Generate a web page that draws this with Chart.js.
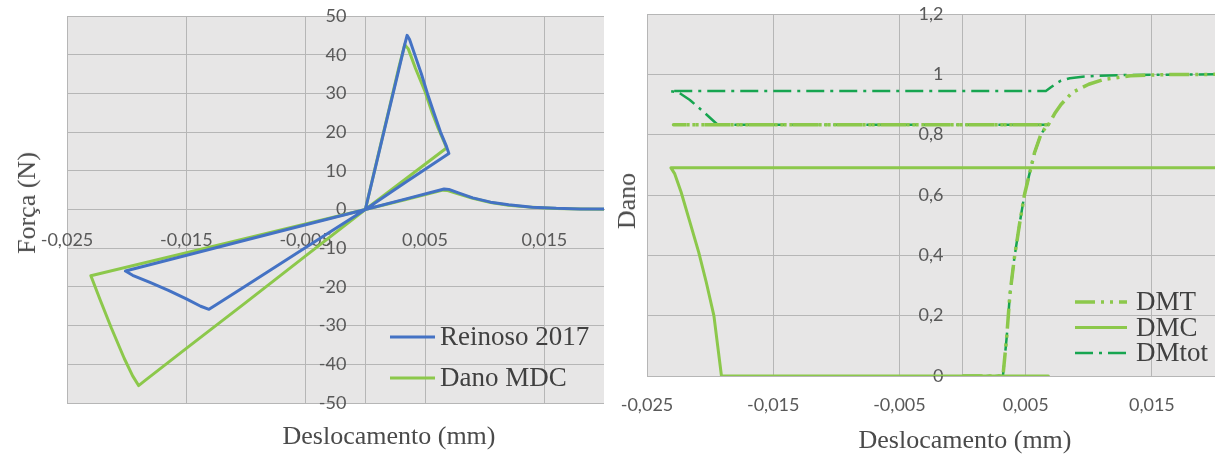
<!DOCTYPE html>
<html>
<head>
<meta charset="utf-8">
<script src="https://cdn.jsdelivr.net/npm/chart.js@4.4.1/dist/chart.umd.min.js"></script>
<style>
    html, body { margin: 0; padding: 0; background: #fff; }
    body { width: 1215px; height: 454px; position: relative; overflow: hidden; }
    .box { position: absolute; top: 0; height: 454px; }
    #leftBox { left: 0; width: 610px; }
    #rightBox { left: 610px; width: 605px; }
    .title {
        position: absolute; white-space: nowrap;
        font-family: "Liberation Serif", serif; font-size: 26px; color: #4a4a4a;
        transform: translate(-50%, -50%);
    }
    .title.vert { transform: translate(-50%, -50%) rotate(-90deg); }
</style>
</head>
<body>
<div class="box" id="leftBox"><canvas id="forceChart" width="610" height="454"></canvas></div>
<div class="box" id="rightBox"><canvas id="damageChart" width="605" height="454"></canvas></div>
<div class="title vert" style="left:27px; top:203px;">Força (N)</div>
<div class="title" style="left:389px; top:436px;">Deslocamento (mm)</div>
<div class="title vert" style="left:627px; top:201px;">Dano</div>
<div class="title" style="left:965px; top:440px;">Deslocamento (mm)</div>

<script>
// --- DATA: força x deslocamento ---
const reinosoX = [0, 0.0010, 0.0020, 0.0028, 0.0033, 0.0035, 0.0037, 0.0042, 0.0047, 0.0052, 0.0058, 0.0063, 0.0068, 0.0070,
    0.0035, 0, -0.0050, -0.0100, -0.0125, -0.0131, -0.0138, -0.0150, -0.0165, -0.0180, -0.0195, -0.0201,
    -0.0100, 0, 0.0035, 0.0066, 0.0070, 0.0078, 0.0090, 0.0105, 0.0120, 0.0140, 0.0160, 0.0180, 0.0200];
const reinosoY = [0, 12.9, 25.8, 36.1, 42.6, 45.0, 44.0, 39.5, 35.0, 30.0, 24.5, 20.0, 16.3, 14.5,
    7.3, 0, -9.8, -19.7, -24.6, -25.8, -25.0, -23.1, -20.9, -18.9, -17.0, -15.9,
    -7.9, 0, 2.8, 5.3, 5.2, 4.3, 3.0, 1.9, 1.2, 0.6, 0.3, 0.15, 0.1];

const mdcX = [0, 0.0010, 0.0020, 0.0028, 0.0033, 0.0036, 0.0042, 0.0050, 0.0056, 0.0061, 0.0066, 0.0068,
    0.0034, 0, -0.0050, -0.0100, -0.0150, -0.0185, -0.0190, -0.0195, -0.0202, -0.0213, -0.0222, -0.0230,
    -0.0115, 0, 0.0034, 0.0065, 0.0069, 0.0077, 0.0090, 0.0105, 0.0120, 0.0140, 0.0160, 0.0180, 0.0200];
const mdcY = [0, 13.1, 26.1, 36.6, 42.6, 41.5, 36.5, 30.5, 25.0, 21.0, 17.5, 15.9,
    7.95, 0, -12.0, -24.0, -35.9, -44.3, -45.5, -43.0, -38.5, -30.5, -23.5, -17.1,
    -8.55, 0, 2.6, 5.0, 4.9, 4.1, 2.9, 1.8, 1.1, 0.55, 0.28, 0.14, 0.08];

const forceXTicks = [-0.025, -0.015, -0.005, 0.005, 0.015];
const forceYTicks = [-50, -40, -30, -20, -10, 0, 10, 20, 30, 40, 50];

// --- DATA: dano x deslocamento ---
const dmtX = [0, 0.0032, 0.0035, 0.00375, 0.0041, 0.0045, 0.0049, 0.0053, 0.0057, 0.0062, 0.0066, 0.0068,
    -0.0229, 0.0068, 0.0073, 0.0078, 0.0087, 0.0100, 0.0112, 0.0133, 0.0160, 0.0200];
const dmtY = [0, 0, 0.13, 0.27, 0.39, 0.50, 0.60, 0.67, 0.74, 0.80, 0.826, 0.833,
    0.833, 0.833, 0.87, 0.90, 0.94, 0.967, 0.983, 0.995, 0.999, 1.0];

const dmcX = [0, 0.0068, -0.0191, -0.0194, -0.0197, -0.0203, -0.0209, -0.0216, -0.0223, -0.0228, -0.0231, 0.0200];
const dmcY = [0, 0, 0, 0.10, 0.20, 0.31, 0.41, 0.51, 0.61, 0.67, 0.69, 0.69];

const dmtotX = [0, 0.0032, 0.0035, 0.00375, 0.0041, 0.0045, 0.0049, 0.0053, 0.0057, 0.0062, 0.0066, 0.0068,
    -0.0194, -0.0205, -0.0216, -0.0225, -0.0232, 0.0066, 0.0070, 0.0074, 0.0078, 0.0085, 0.0095, 0.0106, 0.0130, 0.0200];
const dmtotY = [0, 0, 0.13, 0.27, 0.39, 0.50, 0.60, 0.67, 0.74, 0.80, 0.826, 0.833,
    0.833, 0.875, 0.915, 0.94, 0.945, 0.945, 0.957, 0.969, 0.979, 0.987, 0.992, 0.995, 0.998, 1.0];

const damageXTicks = [-0.025, -0.015, -0.005, 0.005, 0.015];
const damageYTicks = [0, 0.2, 0.4, 0.6, 0.8, 1, 1.2];

// --- STYLE ---
const PLOT_BG = '#E7E6E6';
const GRID = '#B6B6B6';
const TICK_COLOR = '#595959';
const TICK_FONT = { family: 'Lato', size: 18 };
const BLUE = '#4472C4';
const LIGHT_GREEN = '#8CC84B';
const DARK_GREEN = '#17A550';
const Y_LABEL_GAP = 19;

const toPoints = (xs, ys) => xs.map((x, i) => ({ x, y: ys[i] }));
const commaFmt = v => String(v).replace('.', ',');
const fixedTicks = list => scale => { scale.ticks = list.map(v => ({ value: v })); };
// axes sit inside the plot, so they must not push the chart area around
const noOverflow = scale => {
    scale.paddingTop = 0; scale.paddingBottom = 0;
    scale.paddingLeft = 0; scale.paddingRight = 0;
};

// fill the plot area grey, under the grid
const plotBackground = {
    id: 'plotBackground',
    beforeDraw(chart) {
        const { ctx, chartArea: a } = chart;
        ctx.save();
        ctx.fillStyle = PLOT_BG;
        ctx.fillRect(a.left, a.top, a.right - a.left, a.bottom - a.top);
        ctx.restore();
    }
};

// y axis crosses at x = 0; chart.js puts its labels right on the line, so nudge them left
const yLabelGap = {
    id: 'yLabelGap',
    afterLayout(chart) {
        const scale = chart.scales.y;
        if (scale._gapWrapped) return;
        const drawLabels = scale.drawLabels.bind(scale);
        scale.drawLabels = (area) => {
            scale.ctx.save();
            scale.ctx.translate(-Y_LABEL_GAP, 0);
            drawLabels(area);
            scale.ctx.restore();
        };
        scale._gapWrapped = true;
    }
};

// legend drawn inside the plot, Excel style
const inlineLegend = {
    id: 'inlineLegend',
    afterDraw(chart, args, opts) {
        const { ctx } = chart;
        ctx.save();
        chart.data.datasets.forEach((ds, i) => {
            const y = opts.y + i * opts.rowGap;
            ctx.strokeStyle = ds.borderColor;
            ctx.lineWidth = ds.borderWidth;
            ctx.setLineDash(ds.borderDash || []);
            ctx.beginPath();
            ctx.moveTo(opts.x, y);
            ctx.lineTo(opts.x + opts.lineLength, y);
            ctx.stroke();
            ctx.setLineDash([]);
            ctx.fillStyle = '#404040';
            ctx.font = opts.font;
            ctx.textBaseline = 'middle';
            ctx.fillText(ds.label, opts.x + opts.lineLength + opts.gap, y + 1);
        });
        ctx.restore();
    }
};

const axisOptions = (min, max, ticks, pos, pad) => ({
    type: 'linear',
    min, max,
    position: pos,
    afterBuildTicks: fixedTicks(ticks),
    afterFit: noOverflow,
    grid: { color: GRID, lineWidth: 1, drawTicks: false },
    border: { color: GRID, width: 1 },
    ticks: { color: TICK_COLOR, font: TICK_FONT, padding: pad, autoSkip: false, maxRotation: 0, callback: commaFmt }
});

const lineSet = (label, xs, ys, color, width, dash) => ({
    label,
    data: toPoints(xs, ys),
    showLine: true,
    borderColor: color,
    backgroundColor: color,
    borderWidth: width,
    borderDash: dash || [],
    pointRadius: 0,
    tension: 0,
    borderJoinStyle: 'round'
});

new Chart(document.getElementById('forceChart'), {
    type: 'scatter',
    data: {
        datasets: [
            lineSet('Reinoso 2017', reinosoX, reinosoY, BLUE, 3),
            lineSet('Dano MDC', mdcX, mdcY, LIGHT_GREEN, 3)
        ]
    },
    options: {
        responsive: false,
        animation: false,
        layout: { padding: { left: 67, top: 16, right: 6, bottom: 51 } },
        scales: {
            x: axisOptions(-0.025, 0.02, forceXTicks, { y: 0 }, 20),
            y: axisOptions(-50, 50, forceYTicks, { x: 0 }, 0)
        },
        plugins: {
            legend: { display: false },
            tooltip: { enabled: false },
            inlineLegend: { x: 390, y: 337, rowGap: 41, lineLength: 45, gap: 5, font: '27px "Liberation Serif"' }
        }
    },
    plugins: [plotBackground, yLabelGap, inlineLegend]
});

new Chart(document.getElementById('damageChart'), {
    type: 'scatter',
    data: {
        datasets: [
            lineSet('DMT', dmtX, dmtY, LIGHT_GREEN, 3.5, [20, 6, 3, 6, 3, 6]),
            lineSet('DMC', dmcX, dmcY, LIGHT_GREEN, 3),
            lineSet('DMtot', dmtotX, dmtotY, DARK_GREEN, 2.5, [18, 6, 3, 6])
        ]
    },
    options: {
        responsive: false,
        animation: false,
        layout: { padding: { left: 37, top: 14, right: 0, bottom: 78 } },
        scales: {
            x: axisOptions(-0.025, 0.02, damageXTicks, { y: 0 }, 18),
            y: axisOptions(0, 1.2, damageYTicks, { x: 0 }, 0)
        },
        plugins: {
            legend: { display: false },
            tooltip: { enabled: false },
            inlineLegend: { x: 465, y: 302, rowGap: 25.5, lineLength: 52, gap: 9, font: '27px "Liberation Serif"' }
        }
    },
    plugins: [plotBackground, yLabelGap, inlineLegend]
});
</script>
</body>
</html>
